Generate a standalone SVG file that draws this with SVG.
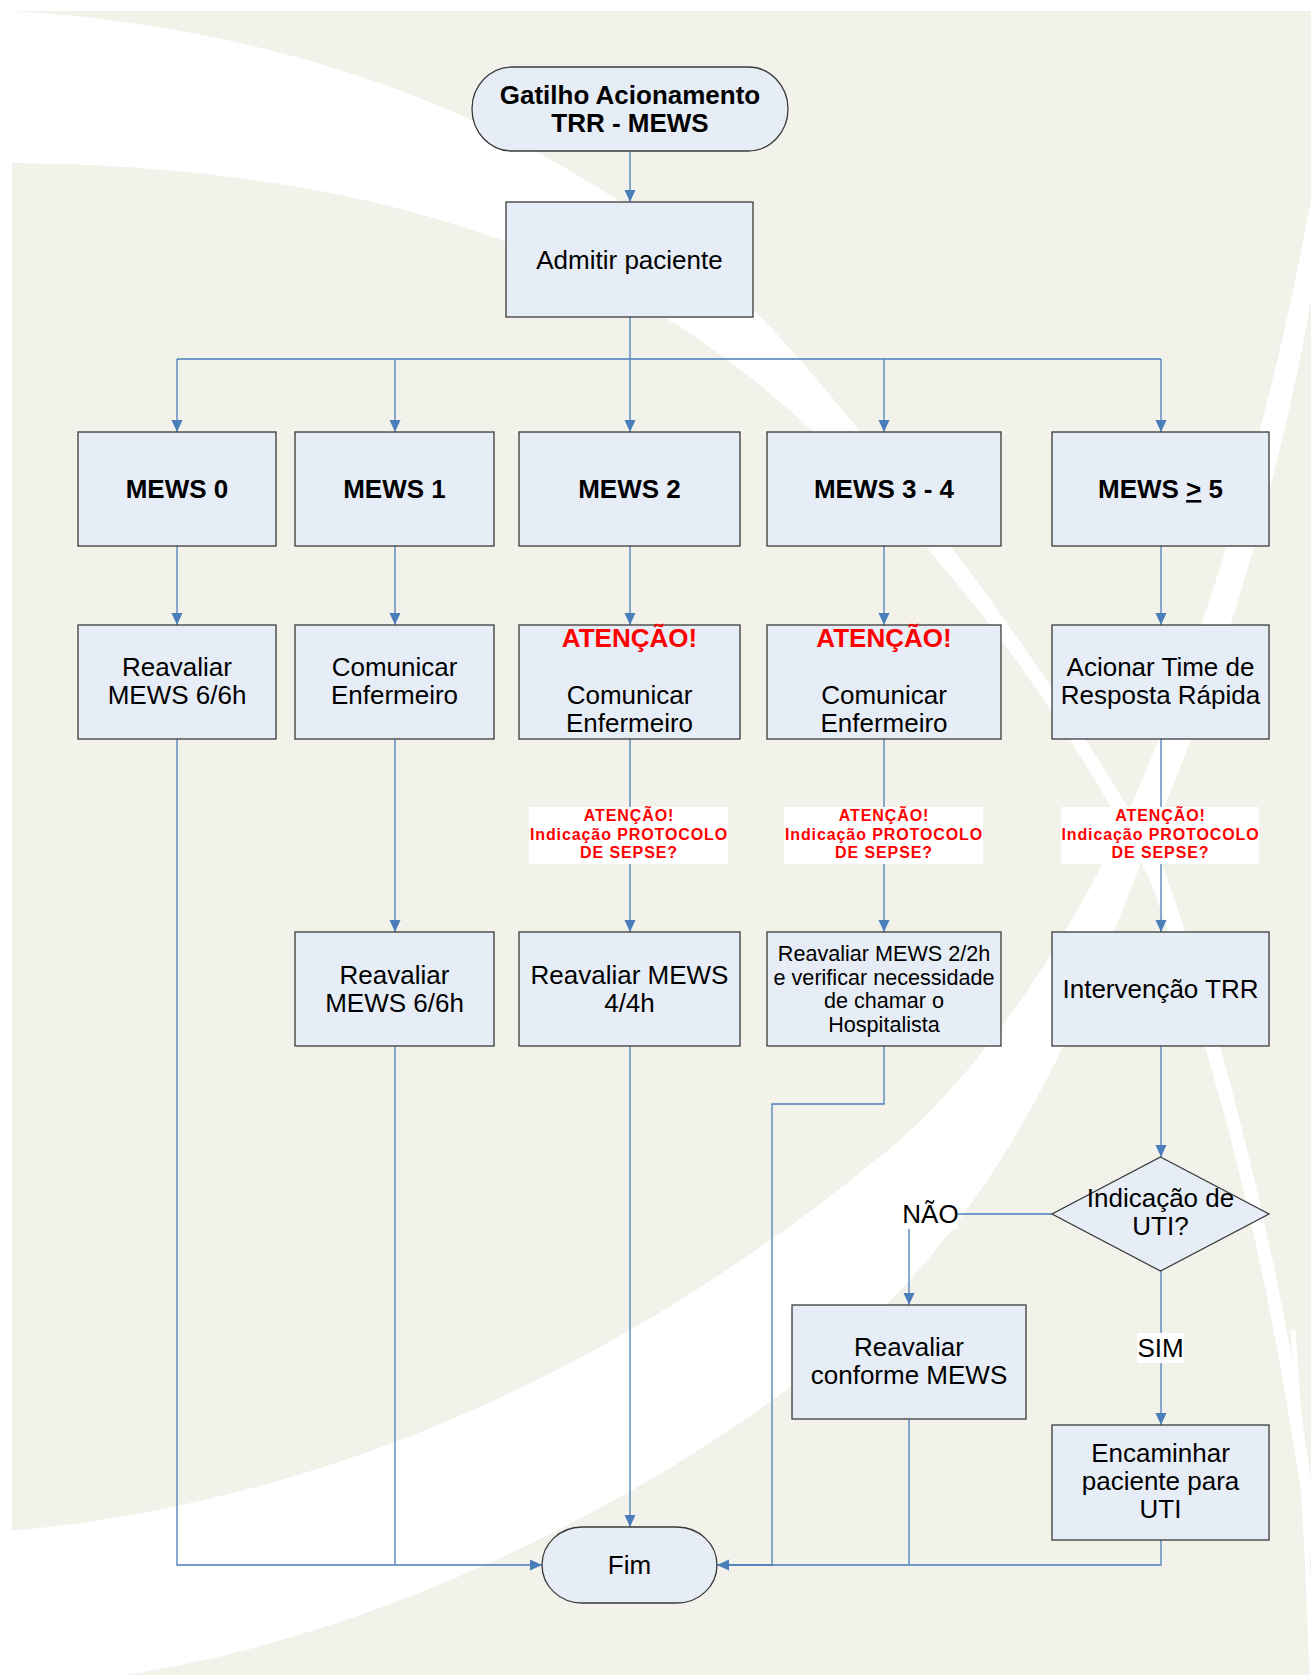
<svg xmlns="http://www.w3.org/2000/svg" width="1311" height="1675" viewBox="0 0 1311 1675">
<defs>
<style>
.bg{fill:#f2f2eb}
.sw{fill:#ffffff}
.nd{fill:#e6edf6;stroke:#3a3a3a;stroke-width:1.3}
.t{font-family:"Liberation Sans",Arial,sans-serif;font-size:26px;fill:#000;text-anchor:middle}
.b{font-weight:bold}
.red{fill:#ff0000}
.s{font-family:"Liberation Sans",Arial,sans-serif;font-size:16px;font-weight:bold;fill:#ff0000;text-anchor:middle;letter-spacing:0.9px}
.sm{font-size:21.6px}
.lb{fill:#ffffff}
.c{fill:none;stroke:#4a7ebb;stroke-width:1.3}
.ca{fill:none;stroke:#4a7ebb;stroke-width:1.3;marker-end:url(#arr)}
</style>
<marker id="arr" markerUnits="userSpaceOnUse" markerWidth="12" markerHeight="12" viewBox="0 0 12 12" refX="12" refY="6" orient="auto">
<path d="M0,0.5 L12,6 L0,11.5 Z" fill="#4a7ebb"/>
</marker>
</defs>
<rect width="1311" height="1675" fill="#ffffff"/>
<g id="background">
<rect class="bg" x="12" y="11" width="1299" height="1664"/>
<path class="sw" d="M12,11 C330,30 620,150 800,360 C960,545 1080,720 1164,870 C1215,1010 1280,1250 1311,1480 L1311,1560 C1275,1300 1230,1100 1150,880 C1060,700 900,480 700,340 C500,205 250,165 12,163 Z"/>
<path class="sw" d="M12,1531 C350,1500 650,1350 900,1140 C1000,1050 1070,930 1120,830 C1180,700 1260,480 1311,200 L1311,300 C1280,480 1220,680 1150,840 C1080,1020 1000,1230 800,1380 C600,1530 350,1640 126,1675 L12,1675 Z"/>
<path d="M1293,1330 C1302,1450 1308,1560 1312,1675" fill="none" stroke="#ffffff" stroke-width="5"/>
</g>
<g id="connectors">
<path class="ca" d="M630,151 V202"/>
<path class="ca" d="M630,317 V432"/>
<path class="c" d="M177,359 H1161"/>
<path class="ca" d="M177,359 V432"/>
<path class="ca" d="M395,359 V432"/>
<path class="ca" d="M884,359 V432"/>
<path class="ca" d="M1161,359 V432"/>
<path class="ca" d="M177,546 V625"/>
<path class="ca" d="M395,546 V625"/>
<path class="ca" d="M630,546 V625"/>
<path class="ca" d="M884,546 V625"/>
<path class="ca" d="M1161,546 V625"/>
<path class="ca" d="M395,739 V932"/>
<path class="ca" d="M630,739 V932"/>
<path class="ca" d="M884,739 V932"/>
<path class="ca" d="M1161,739 V932"/>
<path class="ca" d="M1161,1046 V1157"/>
<path class="c" d="M1052,1214 H958"/>
<path class="ca" d="M909,1229 V1305"/>
<path class="ca" d="M1161,1271 V1425"/>
<path class="ca" d="M630,1046 V1527"/>
<path class="ca" d="M177,739 V1565 H542"/>
<path class="c" d="M395,1046 V1565"/>
<path class="ca" d="M884,1046 V1104 H772 V1565 H717"/>
<path class="c" d="M909,1419 V1565"/>
<path class="c" d="M1161,1540 V1565 H717"/>
</g>
<g id="start">
<rect class="nd" x="472" y="67" width="316" height="84" rx="40" ry="42"/>
<text class="t b" x="630" y="104">Gatilho Acionamento</text>
<text class="t b" x="630" y="132">TRR - MEWS</text>
</g>
<g id="admitir">
<rect class="nd" x="506" y="202" width="247" height="115"/>
<text class="t" x="629.5" y="269">Admitir paciente</text>
</g>
<g id="mews0">
<rect class="nd" x="78" y="432" width="198" height="114"/>
<text class="t b" x="177" y="498">MEWS 0</text>
</g>
<g id="mews1">
<rect class="nd" x="295" y="432" width="199" height="114"/>
<text class="t b" x="394.5" y="498">MEWS 1</text>
</g>
<g id="mews2">
<rect class="nd" x="519" y="432" width="221" height="114"/>
<text class="t b" x="629.5" y="498">MEWS 2</text>
</g>
<g id="mews34">
<rect class="nd" x="767" y="432" width="234" height="114"/>
<text class="t b" x="884" y="498">MEWS 3 - 4</text>
</g>
<g id="mews5">
<rect class="nd" x="1052" y="432" width="217" height="114"/>
<text class="t b" x="1160.5" y="498">MEWS <tspan text-decoration="underline">&gt;</tspan> 5</text>
</g>
<g id="reavaliar0">
<rect class="nd" x="78" y="625" width="198" height="114"/>
<text class="t" x="177" y="676">Reavaliar</text>
<text class="t" x="177" y="704">MEWS 6/6h</text>
</g>
<g id="comunicar1">
<rect class="nd" x="295" y="625" width="199" height="114"/>
<text class="t" x="394.5" y="676">Comunicar</text>
<text class="t" x="394.5" y="704">Enfermeiro</text>
</g>
<g id="comunicar2">
<rect class="nd" x="519" y="625" width="221" height="114"/>
<text class="t b red" x="629.5" y="647">ATENÇÃO!</text>
<text class="t" x="629.5" y="704">Comunicar</text>
<text class="t" x="629.5" y="732">Enfermeiro</text>
</g>
<g id="comunicar34">
<rect class="nd" x="767" y="625" width="234" height="114"/>
<text class="t b red" x="884" y="647">ATENÇÃO!</text>
<text class="t" x="884" y="704">Comunicar</text>
<text class="t" x="884" y="732">Enfermeiro</text>
</g>
<g id="acionar">
<rect class="nd" x="1052" y="625" width="217" height="114"/>
<text class="t" x="1160.5" y="676">Acionar Time de</text>
<text class="t" x="1160.5" y="704">Resposta Rápida</text>
</g>
<g id="sepse2">
<rect class="lb" x="529" y="807" width="199" height="57"/>
<text class="s" x="629" y="821">ATENÇÃO!</text>
<text class="s" x="629" y="839.5">Indicação PROTOCOLO</text>
<text class="s" x="629" y="858">DE SEPSE?</text>
</g>
<g id="sepse34">
<rect class="lb" x="784" y="807" width="199" height="57"/>
<text class="s" x="884" y="821">ATENÇÃO!</text>
<text class="s" x="884" y="839.5">Indicação PROTOCOLO</text>
<text class="s" x="884" y="858">DE SEPSE?</text>
</g>
<g id="sepse5">
<rect class="lb" x="1061" y="807" width="198" height="57"/>
<text class="s" x="1160.5" y="821">ATENÇÃO!</text>
<text class="s" x="1160.5" y="839.5">Indicação PROTOCOLO</text>
<text class="s" x="1160.5" y="858">DE SEPSE?</text>
</g>
<g id="reavaliar1">
<rect class="nd" x="295" y="932" width="199" height="114"/>
<text class="t" x="394.5" y="984">Reavaliar</text>
<text class="t" x="394.5" y="1012">MEWS 6/6h</text>
</g>
<g id="reavaliar2">
<rect class="nd" x="519" y="932" width="221" height="114"/>
<text class="t" x="629.5" y="984">Reavaliar MEWS</text>
<text class="t" x="629.5" y="1012">4/4h</text>
</g>
<g id="reavaliar34">
<rect class="nd" x="767" y="932" width="234" height="114"/>
<text class="t sm" x="884" y="961">Reavaliar MEWS 2/2h</text>
<text class="t sm" x="884" y="984.5">e verificar necessidade</text>
<text class="t sm" x="884" y="1008">de chamar o</text>
<text class="t sm" x="884" y="1031.5">Hospitalista</text>
</g>
<g id="intervencao">
<rect class="nd" x="1052" y="932" width="217" height="114"/>
<text class="t" x="1160.5" y="998">Intervenção TRR</text>
</g>
<g id="decisao">
<polygon class="nd" points="1160.5,1157 1269,1214 1160.5,1271 1052,1214"/>
<text class="t" x="1160.5" y="1207">Indicação de</text>
<text class="t" x="1160.5" y="1235">UTI?</text>
</g>
<g id="nao">
<rect class="lb" x="903" y="1200" width="55" height="29"/>
<text class="t" x="930.5" y="1223">NÃO</text>
</g>
<g id="sim">
<rect class="lb" x="1137" y="1333" width="47" height="30"/>
<text class="t" x="1160.5" y="1357">SIM</text>
</g>
<g id="conforme">
<rect class="nd" x="792" y="1305" width="234" height="114"/>
<text class="t" x="909" y="1356">Reavaliar</text>
<text class="t" x="909" y="1384">conforme MEWS</text>
</g>
<g id="encaminhar">
<rect class="nd" x="1052" y="1425" width="217" height="115"/>
<text class="t" x="1160.5" y="1462">Encaminhar</text>
<text class="t" x="1160.5" y="1490">paciente para</text>
<text class="t" x="1160.5" y="1518">UTI</text>
</g>
<g id="fim">
<rect class="nd" x="542" y="1527" width="175" height="76" rx="40" ry="38"/>
<text class="t" x="629.5" y="1574">Fim</text>
</g>
</svg>
